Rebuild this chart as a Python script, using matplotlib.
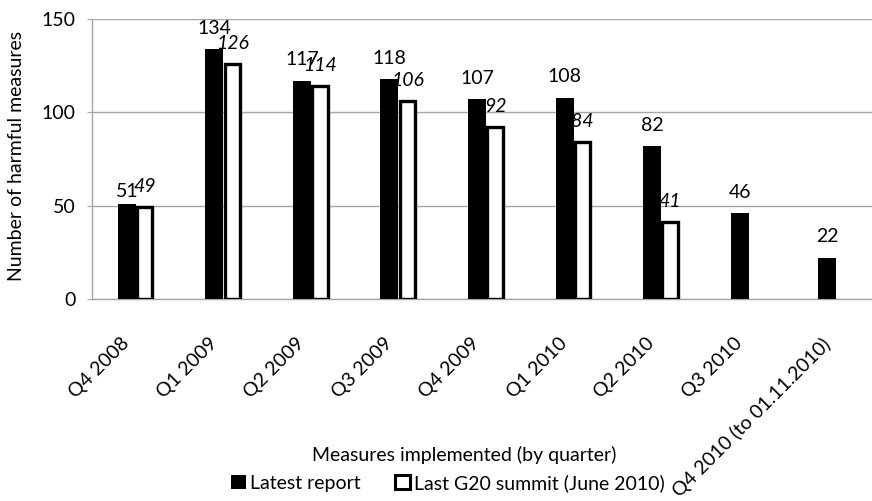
import matplotlib
matplotlib.use("Agg")
import matplotlib.pyplot as plt
import matplotlib.patches as mpatches
from matplotlib.transforms import ScaledTranslation
import numpy as np

plt.rcParams['font.family'] = ['Lato', 'DejaVu Sans']

quarters = ["Q4 2008", "Q1 2009", "Q2 2009", "Q3 2009", "Q4 2009",
            "Q1 2010", "Q2 2010", "Q3 2010", "Q4 2010 (to 01.11.2010)"]
latest = [51, 134, 117, 118, 107, 108, 82, 46, 22]
g20_june = [49, 126, 114, 106, 92, 84, 41, None, None]

W, H = 872, 501
FS = 14
fig = plt.figure(figsize=(W / 100, H / 100), dpi=100)
# plot area runs a little past the right edge of the figure
ax = fig.add_axes([92 / W, (H - 298.7) / H, 788 / W, 279.4 / H])

grey = "#a6a6a6"
x = np.arange(len(quarters))
w = 0.205

ax.bar(x - w / 2, latest, width=w, color="black", zorder=3)
xs = [i for i, v in enumerate(g20_june) if v is not None]
vs = [v for v in g20_june if v is not None]
ax.bar(np.array(xs) + w / 2, vs, width=w * 0.86, color="white",
       edgecolor="black", linewidth=2.4, zorder=3)

# value labels
for i, v in enumerate(latest):
    lift = 5 if i == 0 else 11
    ax.annotate(str(v), (i - w / 2, v), xytext=(0, lift),
                textcoords="offset points", ha="center", va="baseline",
                fontsize=FS, zorder=5)
for i, v in zip(xs, vs):
    ax.annotate(str(v), (i + w / 2, v), xytext=(0, 11),
                textcoords="offset points", ha="center", va="baseline",
                fontsize=FS, style="italic", zorder=5)

ax.set_xlim(-0.5, len(quarters) - 0.5)
ax.set_ylim(0, 150)
ax.set_yticks([0, 50, 100, 150])
ax.yaxis.grid(True, color=grey, linewidth=1)
ax.set_axisbelow(True)
for s in ["top", "right"]:
    ax.spines[s].set_visible(False)
for s in ["left", "bottom"]:
    ax.spines[s].set_color(grey)
    ax.spines[s].set_linewidth(1)
ax.tick_params(axis="y", length=3.6, color=grey, pad=8, labelsize=FS)
ax.tick_params(axis="x", length=0, pad=26, labelsize=FS)

ax.set_xticks(x)
ax.set_xticklabels(quarters, rotation=45, ha="right", va="top",
                   rotation_mode="anchor")
shift = ScaledTranslation(-11 / 72, 0, fig.dpi_scale_trans)
for lbl in ax.get_xticklabels():
    lbl.set_transform(lbl.get_transform() + shift)

fig.text(17 / W, (H - 156) / H, "Number of harmful measures", rotation=90,
         ha="center", va="center", fontsize=FS)
fig.text(464 / W, (H - 455) / H, "Measures implemented (by quarter)",
         ha="center", va="center", fontsize=FS)

handles = [mpatches.Patch(facecolor="black", edgecolor="black", linewidth=0),
           mpatches.Patch(facecolor="white", edgecolor="black", linewidth=2.2)]
fig.legend(handles, ["Latest report", "Last G20 summit (June 2010)"],
           loc="center", bbox_to_anchor=(448 / W, (H - 483) / H), ncol=2,
           frameon=False, fontsize=FS, handlelength=0.75, handleheight=0.75,
           handletextpad=0.2, columnspacing=1.8, borderpad=0, borderaxespad=0)

fig.savefig("out.png", dpi=100)
